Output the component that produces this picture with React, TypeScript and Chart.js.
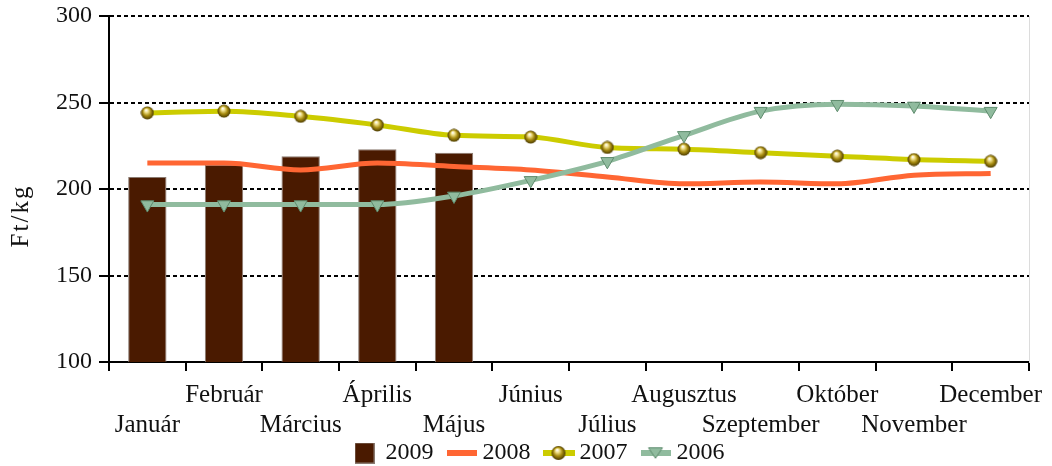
import React, { useEffect, useRef } from 'react';
import { Chart, registerables } from 'chart.js';

Chart.register(...registerables);

// ---- data ----
const months = ['Január', 'Február', 'Március', 'Április', 'Május', 'Június', 'Július', 'Augusztus', 'Szeptember', 'Október', 'November', 'December'];
const seriesNames = ['2009', '2008', '2007', '2006'];
const values2009 = [207, 214, 219, 223, 221, null, null, null, null, null, null, null];
const values2008 = [215, 215, 211, 215, 213, 211, 207, 203, 204, 203, 208, 209];
const values2007 = [244, 245, 242, 237, 231, 230, 224, 223, 221, 219, 217, 216];
const values2006 = [191, 191, 191, 191, 196, 205, 216, 231, 245, 249, 248, 245];
const yMin = 100;
const yMax = 300;
const yStep = 50;
const yTitle = 'Ft/kg';

// ---- styles ----
const FONT = "'Liberation Serif', 'Times New Roman', serif";
const C2009 = '#4a1a00';
const C2008 = '#ff6633';
const C2007 = '#cccc00';
const C2006 = '#90bb9e';
const C2006_EDGE = '#5f8c6e';

function makeCanvas(w: number, h: number) {
  const c = document.createElement('canvas');
  c.width = w;
  c.height = h;
  return c;
}

function drawSphere(g: CanvasRenderingContext2D, cx: number, cy: number, r: number) {
  const grad = g.createRadialGradient(cx - r * 0.2, cy - r * 0.45, r * 0.05, cx, cy, r);
  grad.addColorStop(0, '#ffffff');
  grad.addColorStop(0.25, '#f0e08a');
  grad.addColorStop(0.6, '#a88c10');
  grad.addColorStop(1, '#4a3a00');
  g.fillStyle = grad;
  g.beginPath();
  g.arc(cx, cy, r, 0, Math.PI * 2);
  g.fill();
}

function makeSphere(r: number) {
  const s = Math.ceil(r * 2 + 1);
  const c = makeCanvas(s, s);
  drawSphere(c.getContext('2d')!, s / 2, s / 2, r);
  return c;
}

function drawTriangleDown(g: CanvasRenderingContext2D, cx: number, cy: number, r: number) {
  g.fillStyle = C2006;
  g.strokeStyle = C2006_EDGE;
  g.lineWidth = 1;
  g.beginPath();
  g.moveTo(cx - r, cy - r * 0.6);
  g.lineTo(cx + r, cy - r * 0.6);
  g.lineTo(cx, cy + r * 0.9);
  g.closePath();
  g.fill();
  g.stroke();
}

function makeLegendIcons() {
  const box = makeCanvas(20, 21);
  {
    const g = box.getContext('2d')!;
    g.fillStyle = C2009;
    g.fillRect(0, 0, 20, 21);
    g.strokeStyle = '#8a7a70';
    g.lineWidth = 1;
    g.strokeRect(0.5, 0.5, 19, 20);
  }
  const red = makeCanvas(30, 8);
  {
    const g = red.getContext('2d')!;
    g.fillStyle = C2008;
    g.fillRect(0, 1, 30, 6);
  }
  const yel = makeCanvas(32, 16);
  {
    const g = yel.getContext('2d')!;
    g.fillStyle = C2007;
    g.fillRect(0, 5, 32, 6);
    drawSphere(g, 16, 8, 7);
  }
  const grn = makeCanvas(30, 16);
  {
    const g = grn.getContext('2d')!;
    g.fillStyle = C2006;
    g.fillRect(0, 5, 30, 6);
    drawTriangleDown(g, 15, 7, 7);
  }
  return [box, red, yel, grn];
}

const yTitlePlugin = {
  id: 'yTitleCustom',
  afterDraw(chart: any) {
    const { ctx, chartArea } = chart;
    ctx.save();
    ctx.translate(21, (chartArea.top + chartArea.bottom) / 2 + 27);
    ctx.rotate(-Math.PI / 2);
    ctx.font = `25px ${FONT}`;
    try { (ctx as any).letterSpacing = '2px'; } catch (e) { /* ignore */ }
    ctx.fillStyle = '#111';
    ctx.textAlign = 'center';
    ctx.textBaseline = 'middle';
    ctx.fillText(yTitle, 0, 0);
    ctx.restore();
  },
};

export default function App() {
  const ref = useRef<HTMLCanvasElement>(null);

  useEffect(() => {
    document.body.style.margin = '0';
    const canvas = ref.current;
    if (!canvas) return;
    const sphere = makeSphere(6.5);
    const icons = makeLegendIcons();

    const chart = new Chart(canvas, {
      type: 'bar',
      data: {
        labels: months,
        datasets: [
          {
            type: 'bar',
            label: seriesNames[0],
            data: values2009,
            backgroundColor: C2009,
            borderColor: '#8a7a70',
            borderWidth: 1,
            barPercentage: 0.5,
            categoryPercentage: 1,
            order: 3,
          },
          {
            type: 'line',
            label: seriesNames[1],
            data: values2008,
            borderColor: C2008,
            borderWidth: 5,
            pointRadius: 0,
            cubicInterpolationMode: 'monotone',
            borderCapStyle: 'butt',
            order: 2,
          },
          {
            type: 'line',
            label: seriesNames[2],
            data: values2007,
            borderColor: C2007,
            borderWidth: 5,
            pointStyle: sphere as any,
            pointRadius: 6.5,
            pointBorderWidth: 0,
            cubicInterpolationMode: 'monotone',
            order: 1,
          },
          {
            type: 'line',
            label: seriesNames[3],
            data: values2006,
            borderColor: C2006,
            borderWidth: 5,
            pointStyle: 'triangle',
            rotation: 180,
            pointRadius: 7.5,
            pointBackgroundColor: C2006,
            pointBorderColor: C2006_EDGE,
            pointBorderWidth: 1,
            cubicInterpolationMode: 'monotone',
            order: 0,
          },
        ] as any,
      },
      options: {
        responsive: true,
        maintainAspectRatio: false,
        animation: false,
        events: [],
        layout: { padding: { left: 28, right: 0, top: 16, bottom: -9 } },
        scales: {
          x: {
            offset: true,
            grid: {
              display: true,
              offset: true,
              drawOnChartArea: false,
              drawTicks: true,
              tickLength: 9,
              color: '#000',
              lineWidth: 2,
            },
            border: { display: true, color: '#000', width: 2 },
            ticks: {
              autoSkip: false,
              maxRotation: 0,
              minRotation: 0,
              padding: 9,
              color: '#111',
              font: { family: FONT, size: 25, lineHeight: 1.2 },
              callback: (_v: any, i: number) => (i % 2 === 0 ? ['', months[i]] : [months[i], '']),
            },
            afterFit: (s: any) => {
              s.height = 60;
              s.paddingLeft = 0;
              s.paddingRight = 0;
              s._computeLabelArea = () => null;
            },
          },
          y: {
            min: yMin,
            max: yMax,
            grid: {
              color: '#000',
              lineWidth: 2,
              tickLength: 10,
              tickBorderDash: [],
            },
            border: { display: true, color: '#000', width: 2, dash: [4, 3] },
            ticks: {
              stepSize: yStep,
              padding: 7,
              color: '#111',
              font: { family: FONT, size: 24 },
            },
            afterFit: (s: any) => {
              s.width = 81;
              s.paddingTop = 0;
              s.paddingBottom = 0;
            },
          },
          y2: {
            type: 'linear',
            position: 'right',
            display: true,
            grid: { display: false, drawTicks: false },
            ticks: { display: false },
            border: { display: true, color: '#dcdcdc', width: 1 },
            afterFit: (s: any) => {
              s.width = 23;
              s.paddingTop = 0;
              s.paddingBottom = 0;
            },
          },
        },
        plugins: {
          tooltip: { enabled: false },
          legend: {
            display: true,
            position: 'bottom',
            labels: {
              usePointStyle: true,
              pointStyleWidth: 18,
              padding: 19,
              color: '#111',
              font: { family: FONT, size: 24 },
              generateLabels: (ch: any) =>
                ch.data.datasets.map((ds: any, i: number) => ({
                  text: ds.label,
                  pointStyle: icons[i],
                  fillStyle: 'rgba(0,0,0,0)',
                  strokeStyle: 'rgba(0,0,0,0)',
                  lineWidth: 0,
                  hidden: false,
                  datasetIndex: i,
                  fontColor: '#111',
                })),
            },
          },
        },
      } as any,
      plugins: [yTitlePlugin],
    });

    return () => chart.destroy();
  }, []);

  return (
    <div style={{ width: 1052, height: 466, position: 'relative' }}>
      <canvas ref={ref} />
    </div>
  );
}
